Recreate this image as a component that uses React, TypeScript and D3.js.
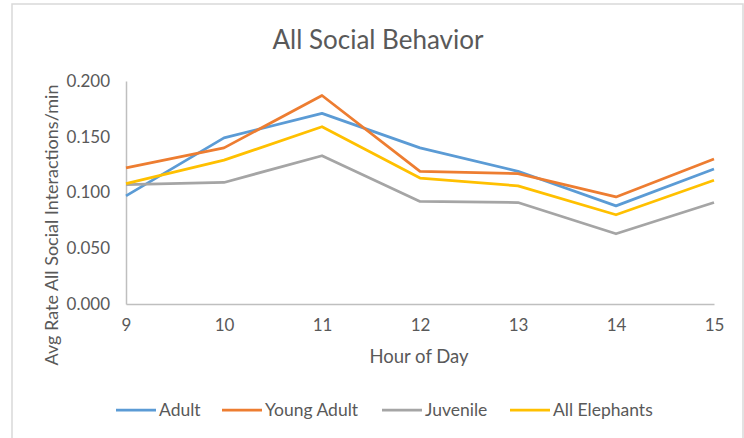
import * as d3 from 'd3';
import React, { useEffect, useRef } from 'react';

const hours = [9, 10, 11, 12, 13, 14, 15];
const adult = [0.097, 0.149, 0.171, 0.14, 0.119, 0.088, 0.121];
const youngAdult = [0.122, 0.14, 0.187, 0.119, 0.117, 0.096, 0.13];
const juvenile = [0.107, 0.109, 0.133, 0.092, 0.091, 0.063, 0.091];
const allElephants = [0.108, 0.129, 0.159, 0.113, 0.106, 0.08, 0.111];
const yTicks = [0, 0.05, 0.1, 0.15, 0.2];

const seriesNames = ['Adult', 'Young Adult', 'Juvenile', 'All Elephants'];
const seriesColors = ['#5B9BD5', '#ED7D31', '#A5A5A5', '#FFC000'];
const seriesValues = [adult, youngAdult, juvenile, allElephants];

const App: React.FC = () => {
  const svgRef = useRef<SVGSVGElement | null>(null);

  useEffect(() => {
    const svg = d3.select(svgRef.current);
    const width = 744;
    const height = 438;
    const font = 'Lato, "Open Sans", sans-serif';
    const textColor = '#595959';

    svg.attr('width', width).attr('height', height);
    svg.selectAll('*').remove();

    // chart border
    svg
      .append('rect')
      .attr('x', 12)
      .attr('y', 4)
      .attr('width', 731)
      .attr('height', 440)
      .attr('fill', '#fff')
      .attr('stroke', '#d9d9d9')
      .attr('stroke-width', 1.5);

    const x = d3.scaleLinear().domain([9, 15]).range([126, 714]);
    const y = d3.scaleLinear().domain([0, 0.2]).range([304, 81]);

    svg
      .append('text')
      .attr('x', 378)
      .attr('y', 49)
      .attr('text-anchor', 'middle')
      .attr('fill', textColor)
      .style('font-family', font)
      .style('font-size', '26px')
      .text('All Social Behavior');

    const yAxis = svg
      .append('g')
      .attr('transform', 'translate(126,0)')
      .call(
        d3
          .axisLeft(y)
          .tickValues(yTicks)
          .tickFormat((d) => d3.format('.3f')(d as number))
          .tickSize(0)
          .tickPadding(16),
      );
    yAxis.select('.domain').attr('stroke', '#bfbfbf').attr('stroke-width', 1.5);
    yAxis
      .selectAll('text')
      .attr('fill', textColor)
      .style('font-family', font)
      .style('font-size', '17px');

    const xAxis = svg
      .append('g')
      .attr('transform', 'translate(0,304)')
      .call(
        d3
          .axisBottom(x)
          .tickValues(hours)
          .tickFormat((d) => String(d))
          .tickSize(0)
          .tickPadding(15),
      );
    xAxis.select('.domain').attr('stroke', '#bfbfbf').attr('stroke-width', 1.5);
    xAxis
      .selectAll('text')
      .attr('fill', textColor)
      .style('font-family', font)
      .style('font-size', '17px');

    svg
      .append('text')
      .attr('x', 419)
      .attr('y', 363)
      .attr('text-anchor', 'middle')
      .attr('fill', textColor)
      .style('font-family', font)
      .style('font-size', '18.5px')
      .text('Hour of Day');

    svg
      .append('text')
      .attr('transform', 'translate(58,225) rotate(-90)')
      .attr('text-anchor', 'middle')
      .attr('fill', textColor)
      .style('font-family', font)
      .style('font-size', '18px')
      .text('Avg Rate All Social Interactions/min');

    const line = d3
      .line<number>()
      .x((_, i) => x(hours[i]))
      .y((d) => y(d));

    seriesValues.forEach((vals, i) => {
      svg
        .append('path')
        .datum(vals)
        .attr('fill', 'none')
        .attr('stroke', seriesColors[i])
        .attr('stroke-width', 2.75)
        .attr('stroke-linejoin', 'round')
        .attr('d', line);
    });

    // legend
    const legendX = [116, 222, 382, 510];
    const legend = svg.append('g').attr('transform', 'translate(0,410)');
    seriesNames.forEach((name, i) => {
      legend
        .append('line')
        .attr('x1', legendX[i])
        .attr('x2', legendX[i] + 40)
        .attr('stroke', seriesColors[i])
        .attr('stroke-width', 2.75);
      legend
        .append('text')
        .attr('x', legendX[i] + 43)
        .attr('y', 6)
        .attr('fill', textColor)
        .style('font-family', font)
        .style('font-size', '17.5px')
        .text(name);
    });
  }, []);

  return (
    <div style={{ position: 'fixed', left: 0, top: 0 }}>
      <svg ref={svgRef}></svg>
    </div>
  );
};

export default App;
